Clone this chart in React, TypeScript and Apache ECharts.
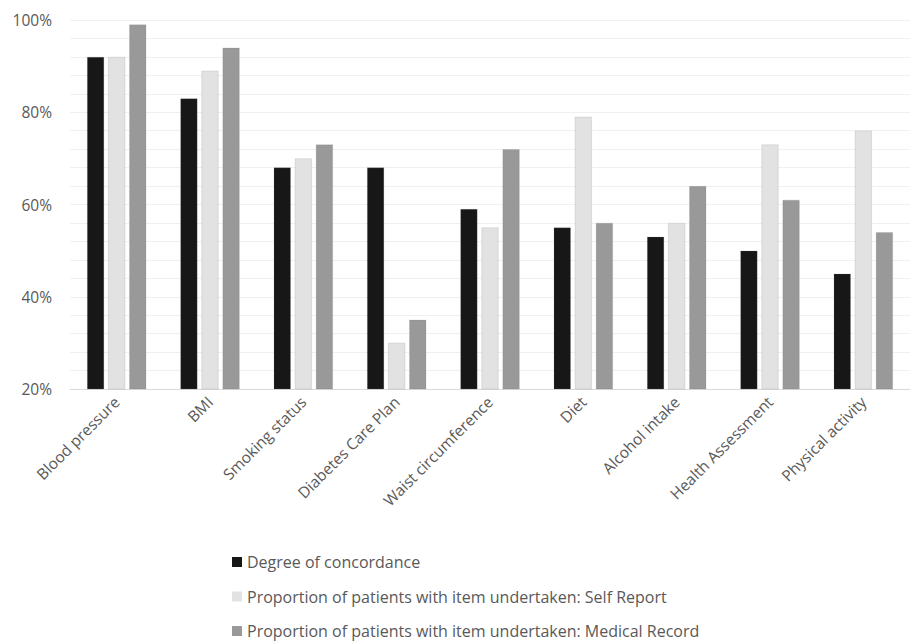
import React, { useEffect, useRef } from "react";
import * as echarts from "echarts";

const categories = [
  "Blood pressure",
  "BMI",
  "Smoking status",
  "Diabetes Care Plan",
  "Waist circumference",
  "Diet",
  "Alcohol intake",
  "Health Assessment",
  "Physical activity",
];
const concordance = [92, 83, 68, 68, 59, 55, 53, 50, 45];
const selfReport = [92, 89, 70, 30, 55, 79, 56, 73, 76];
const medicalRecord = [99, 94, 73, 35, 72, 56, 64, 61, 54];
const seriesNames = [
  "Degree of concordance",
  "Proportion of patients with item undertaken: Self Report",
  "Proportion of patients with item undertaken: Medical Record",
];

const FONT = "'Open Sans', 'Noto Sans', sans-serif";

export default function App() {
  const ref = useRef<HTMLDivElement>(null);
  useEffect(() => {
    if (!ref.current) return;
    const chart = echarts.init(ref.current, undefined, { renderer: "svg" });
    const mk = (name: string, data: number[], color: string) => ({
      name,
      type: "bar",
      data,
      barWidth: 17,
      barGap: "24%",
      itemStyle: { color, borderColor: "rgba(120,120,120,0.35)", borderWidth: 0.5 },
    });
    chart.setOption({
      animation: false,
      backgroundColor: "#ffffff",
      textStyle: { fontFamily: FONT },
      grid: { left: 70, top: 20, width: 850, height: 369 },
      legend: {
        orient: "vertical",
        left: 232,
        top: 553,
        height: 100,
        padding: 0,
        icon: "rect",
        itemWidth: 10,
        itemHeight: 10,
        itemGap: 16.5,
        itemStyle: { borderWidth: 0 },
        textStyle: { color: "#595959", fontSize: 16, lineHeight: 18, fontFamily: FONT },
        data: seriesNames,
      },
      xAxis: {
        type: "category",
        data: categories,
        axisLine: { show: true, lineStyle: { color: "#d9d9d9", width: 1 } },
        axisTick: { show: false },
        axisLabel: {
          rotate: 45,
          color: "#595959",
          fontSize: 15.5,
          fontFamily: FONT,
          margin: 10,
          interval: 0,
        },
      },
      yAxis: {
        type: "value",
        min: 20,
        max: 100,
        interval: 20,
        axisLine: { show: false },
        axisTick: { show: false },
        axisLabel: {
          color: "#595959",
          fontSize: 15.5,
          fontFamily: FONT,
          margin: 18,
          formatter: (v: number) => v + "%",
        },
        splitLine: { show: true, lineStyle: { color: "#f0f0f0", width: 1 } },
        minorTick: { show: false, splitNumber: 5 },
        minorSplitLine: { show: true, lineStyle: { color: "#f0f0f0", width: 1 } },
      },
      series: [
        mk(seriesNames[0], concordance, "#171717"),
        mk(seriesNames[1], selfReport, "#e2e2e2"),
        mk(seriesNames[2], medicalRecord, "#999999"),
      ],
    });
    return () => chart.dispose();
  }, []);
  return (
    <div
      ref={ref}
      style={{ position: "absolute", left: 0, top: 0, width: 910, height: 641 }}
    />
  );
}
